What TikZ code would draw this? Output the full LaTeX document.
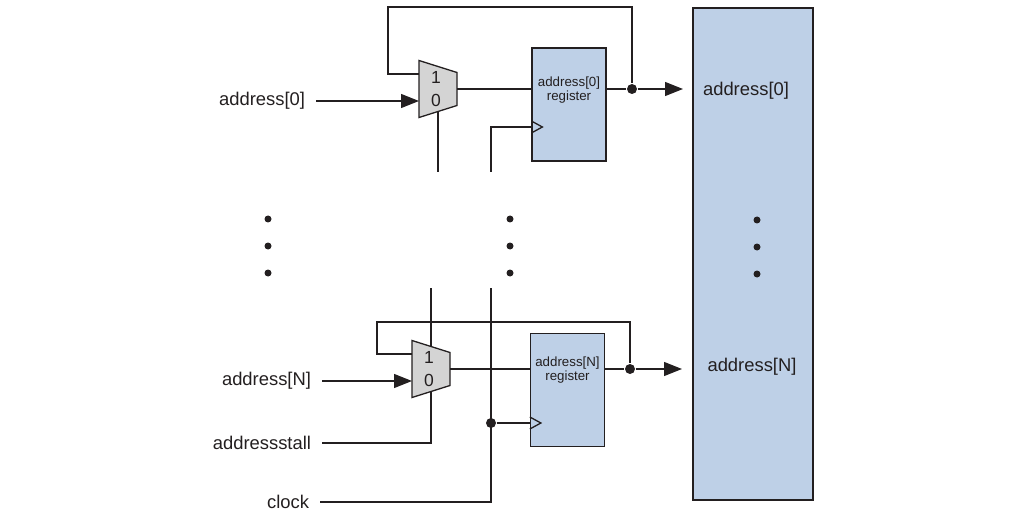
\documentclass[tikz,border=0pt]{standalone}
\usepackage{fontspec}
\setmainfont{Liberation Sans}
\usetikzlibrary{arrows.meta}
\definecolor{regblue}{RGB}{190,208,231}
\definecolor{muxgray}{RGB}{212,212,212}
\definecolor{ink}{RGB}{35,31,32}

\begin{document}
\begin{tikzpicture}
  [x=1pt,y=-1pt,line width=1.3pt,color=ink,
   every node/.style={font=\fontsize{18.4}{20}\selectfont},
   muxbody/.style={draw,fill=muxgray,line join=miter},
   reg/.style={draw,fill=regblue,minimum width=74pt,minimum height=113pt,inner sep=0pt},
   regtxt/.style={font=\fontsize{13.3}{14.5}\selectfont,align=center,inner sep=0pt},
   digit/.style={font=\fontsize{17.5}{18}\selectfont,inner sep=0pt},
   pin/.style={anchor=east,inner sep=0pt,outer xsep=11pt},
   sig/.style={-{Triangle[length=18pt,width=14pt]}},
   dot/.style={circle,fill=ink,inner sep=0pt,minimum size=10pt},
   vdot/.style={circle,fill=ink,inner sep=0pt,minimum size=7pt}]
  \useasboundingbox (0,0) rectangle (1016,521);

  \node[draw,fill=regblue,minimum width=120pt,minimum height=492pt] (mem) at (753,254) {};
  \node (mem0) at (746,91) {address[0]};
  \node (memN) at (752,367) {address[N]};

  \coordinate (mux0) at (438,89);
  \draw[muxbody] (mux0) ++(-19,-28.5) -- ++(38,12) -- ++(0,33) -- ++(-38,12) -- cycle;
  \node[digit] (one0) at ([shift={(-2,-11.5)}]mux0) {1};
  \node[digit] (zero0) at ([shift={(-2,11.5)}]mux0) {0};
  \node[reg] (reg0) at (569,104.5) {};
  \node[regtxt] (reg0txt) at (569,90) {address[0]\\register};

  \coordinate (muxN) at (431,369);
  \draw[muxbody] (muxN) ++(-19,-28.5) -- ++(38,12) -- ++(0,33) -- ++(-38,12) -- cycle;
  \node[digit] (oneN) at ([shift={(-2,-11.5)}]muxN) {1};
  \node[digit] (zeroN) at ([shift={(-2,11.5)}]muxN) {0};
  \node[reg] (regN) at (567.5,390) {};
  \node[regtxt] (regNtxt) at (567.5,370) {address[N]\\register};

  \node[pin] (a0) at (316,101) {address[0]};
  \node[pin] (aN) at (322,381) {address[N]};
  \node[pin] (stall) at (322,443) {addressstall};
  \node[pin] (clock) at (320,502) {clock};

  \coordinate (fb0) at ([shift={(-19,-15)}]mux0);
  \coordinate (in0) at ([shift={(-19,12)}]mux0);
  \coordinate (out0) at ([shift={(19,0)}]mux0);
  \coordinate (s0) at ([shift={(0,22.5)}]mux0);
  \coordinate (fbN) at ([shift={(-19,-15)}]muxN);
  \coordinate (inN) at ([shift={(-19,12)}]muxN);
  \coordinate (outN) at ([shift={(19,0)}]muxN);
  \coordinate (nN) at ([shift={(0,-22.5)}]muxN);
  \coordinate (sN) at ([shift={(0,22.5)}]muxN);
  \coordinate (ck0) at (reg0.west |- 0,127);
  \coordinate (ckN) at (regN.west |- 0,423);
  \coordinate (sel0) at (438,172);
  \coordinate (clk0) at (491,172);
  \coordinate (selN) at (431,288);
  \coordinate (clkN) at (491,288);
  \coordinate (tip0) at (683,89);
  \coordinate (tipN) at (682,369);

  \node[dot] (j0) at (632,89) {};
  \node[dot] (jN) at (630,369) {};
  \node[dot] (jc) at (491,423) {};

  \draw[sig] (a0.east) -- (in0);
  \draw (fb0) -| (388,7) -| (j0);
  \draw (out0) -- (reg0.west |- out0);
  \draw (reg0.east |- j0) -- (j0);
  \draw[sig] (j0) -- (tip0);
  \draw (s0) -- (sel0);
  \draw (clk0) |- (ck0);
  \draw (ck0) ++(0,-6) -- ++(11,6) -- ++(-11,6);

  \draw[sig] (aN.east) -- (inN);
  \draw (fbN) -| (377,322) -| (jN);
  \draw (outN) -- (regN.west |- outN);
  \draw (regN.east |- jN) -- (jN);
  \draw[sig] (jN) -- (tipN);
  \draw (selN) -- (nN);
  \draw (sN) |- (stall.east);
  \draw (clock.east) -| (clkN);
  \draw (jc) -- (ckN);
  \draw (ckN) ++(0,-6) -- ++(11,6) -- ++(-11,6);

  \foreach \y [count=\i] in {219,246,273} {
    \node[vdot] (ldot\i) at (268,\y) {};
    \node[vdot] (mdot\i) at (510,\y) {};
    \node[vdot] (rdot\i) at (757,\y+1) {};
  }
\end{tikzpicture}
\end{document}
